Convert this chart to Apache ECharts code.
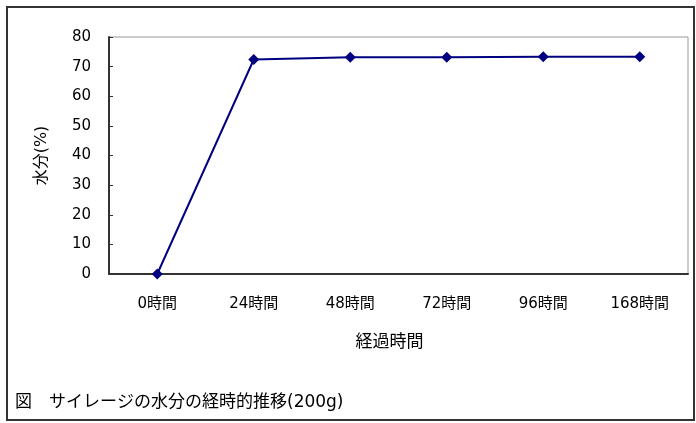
<!DOCTYPE html>
<html>
<head>
<meta charset="utf-8">
<script src="https://cdn.jsdelivr.net/npm/echarts@6/dist/echarts.min.js"></script>
<style>
  html, body { margin: 0; padding: 0; background: #fff; }
  #chart { width: 696px; height: 423px; }
</style>
</head>
<body>
<div id="chart"></div>
<script>
const categories = ['0時間', '24時間', '48時間', '72時間', '96時間', '168時間']
const moisture = [0, 72.4, 73.2, 73.2, 73.3, 73.3]
const caption = '図　サイレージの水分の経時的推移(200g)'

const font = '"DejaVu Sans", "Noto Sans CJK JP", sans-serif'
const chart = echarts.init(document.getElementById('chart'))

chart.setOption({
  animation: false,
  backgroundColor: '#fff',
  grid: {
    left: 109,
    right: 8,
    top: 37,
    bottom: 149,
    show: true,
    borderColor: '#999',
    borderWidth: 1,
    backgroundColor: 'transparent'
  },
  xAxis: {
    type: 'category',
    data: categories,
    boundaryGap: true,
    name: '経過時間',
    nameLocation: 'middle',
    nameGap: 60,
    nameTextStyle: { fontFamily: font, fontSize: 17, color: '#000', padding: [0, 18, 0, 0] },
    axisLine: { lineStyle: { color: '#333', width: 2 } },
    axisTick: { inside: true, length: 4, lineStyle: { color: '#333' } },
    axisLabel: { margin: 23, fontFamily: font, fontSize: 15, color: '#000' },
    splitLine: { show: false }
  },
  yAxis: {
    type: 'value',
    min: 0,
    max: 80,
    interval: 10,
    name: '水分(%)',
    nameLocation: 'middle',
    nameRotate: 90,
    nameGap: 59,
    nameTextStyle: { fontFamily: font, fontSize: 16, color: '#000' },
    axisLine: { show: true, lineStyle: { color: '#333', width: 2 } },
    axisTick: { show: true, inside: true, length: 4, lineStyle: { color: '#333' } },
    axisLabel: { margin: 18, fontFamily: font, fontSize: 15, color: '#000' },
    splitLine: { show: false }
  },
  series: [{
    type: 'line',
    data: moisture,
    symbol: 'diamond',
    symbolSize: 11,
    itemStyle: { color: '#000080' },
    lineStyle: { color: '#000080', width: 2 }
  }],
  graphic: [
    {
      type: 'rect',
      shape: { x: 7, y: 7, width: 687, height: 413 },
      style: { fill: 'none', stroke: '#333', lineWidth: 2 },
      silent: true
    },
    {
      type: 'text',
      left: 15,
      top: 394,
      style: { text: caption, fontFamily: font, fontSize: 17, fill: '#000' }
    }
  ]
})
</script>
</body>
</html>
